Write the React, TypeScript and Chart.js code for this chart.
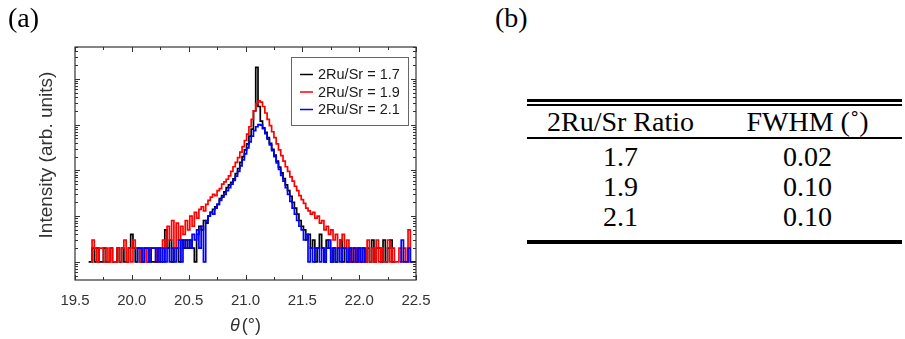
import React, { useEffect, useRef } from "react";
import { Chart, registerables } from "chart.js";

Chart.register(...registerables);

// ---- Data ----
const theta = [
  19.60, 19.62, 19.64, 19.66, 19.68, 19.70, 19.72, 19.74, 19.76, 19.78,
  19.80, 19.82, 19.84, 19.86, 19.88, 19.90, 19.92, 19.94, 19.96, 19.98,
  20.00, 20.02, 20.04, 20.06, 20.08, 20.10, 20.12, 20.14, 20.16, 20.18,
  20.20, 20.22, 20.24, 20.26, 20.28, 20.30, 20.32, 20.34, 20.36, 20.38,
  20.40, 20.42, 20.44, 20.46, 20.48, 20.50, 20.52, 20.54, 20.56, 20.58,
  20.60, 20.62, 20.64, 20.66, 20.68, 20.70, 20.72, 20.74, 20.76, 20.78,
  20.80, 20.82, 20.84, 20.86, 20.88, 20.90, 20.92, 20.94, 20.96, 20.98,
  21.00, 21.02, 21.04, 21.06, 21.08, 21.10, 21.12, 21.14, 21.16, 21.18,
  21.20, 21.22, 21.24, 21.26, 21.28, 21.30, 21.32, 21.34, 21.36, 21.38,
  21.40, 21.42, 21.44, 21.46, 21.48, 21.50, 21.52, 21.54, 21.56, 21.58,
  21.60, 21.62, 21.64, 21.66, 21.68, 21.70, 21.72, 21.74, 21.76, 21.78,
  21.80, 21.82, 21.84, 21.86, 21.88, 21.90, 21.92, 21.94, 21.96, 21.98,
  22.00, 22.02, 22.04, 22.06, 22.08, 22.10, 22.12, 22.14, 22.16, 22.18,
  22.20, 22.22, 22.24, 22.26, 22.28, 22.30, 22.32, 22.34, 22.36, 22.38,
  22.40, 22.42, 22.44, 22.46, 22.48, 22.50,
];

const ratio17 = [
  null, 1, 1, 2, 1, 2, 1, 1, 2, 1,
  1, 2, 1, 1, 2, 1, 2, 1, 1, 2,
  4, 2, 1, 2, 1, 1, 2, 1, 2, 1,
  1, 2, 1, 2, 1, 5, 2, 3, 1, 2,
  2, 1, 3, 2, 3, 2, 3, 2, 1, 4,
  6, 5, 8, 7, 10, 12, 14, 16, 18, 24,
  28, 34, 42, 48, 55, 65, 85, 110, 150, 200,
  280, 380, 560, 800, 2000, 18000, 2500, 1200, 850, 680,
  520, 390, 290, 215, 160, 118, 88, 66, 48, 36,
  27, 20, 15, 11, 8, 6, 5, 3, 4, 2,
  3, 1, 2, 4, 2, 1, 3, 2, 1, 2,
  1, 2, 3, 1, 2, 1, 2, 1, 2, 1,
  2, 1, 2, 1, 2, 1, 3, 1, 2, 2,
  1, 3, 1, 2, 3, 1, 1, null, null, null,
  null, null, null, null, null, null,
];

const ratio19 = [
  null, null, 1, 3, 2, 1, 2, 2, 1, 2,
  1, 2, 1, 1, 2, 1, 2, 3, 1, 2,
  1, 3, 2, 2, 1, 2, 2, 1, 2, 2,
  2, 1, 2, 2, 3, 2, 6, 3, 8, 2,
  7, 3, 6, 4, 8, 5, 10, 6, 12, 9,
  14, 16, 13, 18, 22, 26, 30, 28, 36, 40,
  50, 56, 64, 76, 95, 120, 150, 190, 250, 330,
  450, 620, 900, 1300, 2000, 2900, 3300, 3100, 2500, 1800,
  1300, 950, 700, 520, 380, 280, 210, 160, 120, 95,
  72, 58, 45, 36, 28, 23, 19, 15, 13, 11,
  12, 9, 10, 7, 8, 5, 6, 4, 5, 3,
  4, 2, 3, 4, 2, 3, 1, 2, 1, 2,
  1, 2, 1, 1, 3, 1, 2, 1, 3, 1,
  2, 1, 1, 3, 1, 2, 1, 1, 2, 1,
  2, 1, 5, 1, 1, null,
];

const ratio21 = [
  null, null, null, null, null, null, null, null, null, null,
  null, null, null, null, null, null, null, null, null, null,
  null, null, 1, 2, 2, 1, 2, 2, 1, 2,
  2, 1, 2, 1, 2, 1, 2, 1, 2, 1,
  2, 3, 1, 3, 2, 3, 2, 4, 3, 5,
  2, 6, 1, 8, 10, 12, 11, 15, 18, 22,
  26, 30, 36, 42, 50, 60, 75, 95, 125, 170,
  230, 310, 420, 560, 740, 900, 1000, 980, 820, 640,
  480, 360, 270, 200, 145, 105, 78, 58, 42, 30,
  21, 15, 11, 8, 6, 5, 3, 4, 1, 2,
  1, 2, 2, 1, 2, 1, 2, 3, 1, 2,
  1, 2, 1, 2, 2, 1, 2, 1, 2, 1,
  2, 1, 2, 1, null, null, null, null, null, null,
  null, null, null, null, null, null, null, null, 1, 3,
  1, 1, 2, 1, 1, 1,
];

const seriesLabels = ["2Ru/Sr = 1.7", "2Ru/Sr = 1.9", "2Ru/Sr = 2.1"];
const seriesColors = ["#000000", "#ff0000", "#0000ff"];

const xMajorTicks = [19.5, 20.0, 20.5, 21.0, 21.5, 22.0, 22.5];
const xMinorTicks = [19.75, 20.25, 20.75, 21.25, 21.75, 22.25];
const yDecades = [0.1, 1, 10, 100, 1000, 10000];
const yMinorMultipliers = [2, 3, 4, 5, 6, 7, 8, 9];

const tableHeader = ["2Ru/Sr Ratio", "FWHM (\u02DA)"];
const tableRatios = ["1.7", "1.9", "2.1"];
const tableFwhm = ["0.02", "0.10", "0.10"];

const SANS = "'Liberation Sans', Arial, sans-serif";
const SERIF = "'Liberation Serif', 'Times New Roman', serif";

const chromePlugin = {
  id: "chrome",
  afterDatasetsDraw(chart: any) {
    const { ctx, chartArea: a, scales } = chart;
    const xs = scales.x;
    const ys = scales.y;
    ctx.save();
    ctx.strokeStyle = "#333333";
    ctx.lineWidth = 1.2;
    ctx.strokeRect(a.left, a.top, a.right - a.left, a.bottom - a.top);
    ctx.lineWidth = 1;
    ctx.beginPath();
    const xt = (v: number, len: number) => {
      const px = Math.round(xs.getPixelForValue(v)) + 0.5;
      ctx.moveTo(px, a.bottom);
      ctx.lineTo(px, a.bottom - len);
      ctx.moveTo(px, a.top);
      ctx.lineTo(px, a.top + len);
    };
    const yt = (v: number, len: number) => {
      const py = Math.round(ys.getPixelForValue(v)) + 0.5;
      if (py < a.top || py > a.bottom) return;
      ctx.moveTo(a.left, py);
      ctx.lineTo(a.left + len, py);
      ctx.moveTo(a.right, py);
      ctx.lineTo(a.right - len, py);
    };
    xMajorTicks.forEach((v) => xt(v, 5));
    xMinorTicks.forEach((v) => xt(v, 3));
    yDecades.forEach((d) => {
      yt(d, 5);
      yMinorMultipliers.forEach((m) => yt(d * m, 3));
    });
    ctx.stroke();

    // y-axis title
    ctx.fillStyle = "#333333";
    ctx.font = `19px ${SANS}`;
    ctx.textAlign = "center";
    ctx.textBaseline = "middle";
    ctx.save();
    ctx.translate(47, 155);
    ctx.rotate(-Math.PI / 2);
    ctx.fillText("Intensity (arb. units)", 0, 0);
    ctx.restore();

    // x-axis title: italic theta + (°)
    const cx = (a.left + a.right) / 2;
    ctx.font = `italic 18px ${SANS}`;
    const w1 = ctx.measureText("\u03B8").width;
    ctx.font = `18px ${SANS}`;
    const w2 = ctx.measureText("(\u00B0)").width;
    const gap = 2;
    const start = cx - (w1 + gap + w2) / 2;
    ctx.textAlign = "left";
    ctx.font = `italic 18px ${SANS}`;
    ctx.fillText("\u03B8", start, 326);
    ctx.font = `18px ${SANS}`;
    ctx.fillText("(\u00B0)", start + w1 + gap, 326);

    // legend box
    const bx = 291.5, by = 57.5, bw = 117, bh = 68;
    ctx.fillStyle = "#ffffff";
    ctx.fillRect(bx, by, bw, bh);
    ctx.strokeStyle = "#666666";
    ctx.lineWidth = 1;
    ctx.strokeRect(bx, by, bw, bh);
    ctx.font = `14.5px ${SANS}`;
    ctx.textBaseline = "middle";
    chart.data.datasets.forEach((ds: any, i: number) => {
      const yy = 74.5 + i * 17.5;
      ctx.strokeStyle = ds.borderColor;
      ctx.lineWidth = 1.5;
      ctx.beginPath();
      ctx.moveTo(300, yy);
      ctx.lineTo(313, yy);
      ctx.stroke();
      ctx.fillStyle = "#1a1a1a";
      ctx.fillText(ds.label, 318, yy + 0.5);
    });
    ctx.restore();
  },
};

function XrdChart() {
  const ref = useRef<HTMLCanvasElement | null>(null);
  useEffect(() => {
    if (!ref.current) return;
    const series = [ratio17, ratio19, ratio21];
    const chart = new Chart(ref.current, {
      type: "line",
      data: {
        datasets: series.map((vals, i) => ({
          label: seriesLabels[i],
          data: theta.map((x, j) => ({ x, y: vals[j] })),
          borderColor: seriesColors[i],
          backgroundColor: seriesColors[i],
          borderWidth: 1.7,
          pointRadius: 0,
          stepped: "middle" as const,
          spanGaps: false,
          order: 2 - i,
        })),
      },
      options: {
        animation: false,
        responsive: false,
        maintainAspectRatio: false,
        layout: { padding: { left: 75, right: 34, top: 47, bottom: 0 } },
        plugins: { legend: { display: false }, tooltip: { enabled: false } },
        scales: {
          x: {
            type: "linear",
            min: 19.5,
            max: 22.5,
            grid: { display: false },
            border: { display: false },
            ticks: {
              stepSize: 0.5,
              padding: 4,
              autoSkip: false,
              maxRotation: 0,
              color: "#333333",
              font: { family: SANS, size: 15 },
              callback: (v: any) => Number(v).toFixed(1),
            },
            afterFit: (s: any) => {
              s.height = 59;
            },
          },
          y: {
            type: "logarithmic",
            display: false,
            min: 0.4,
            max: 50000,
          },
        },
      },
      plugins: [chromePlugin],
    } as any);
    return () => chart.destroy();
  }, []);
  return (
    <canvas
      ref={ref}
      width={450}
      height={339}
      style={{ position: "absolute", left: 0, top: 0, width: 450, height: 339 }}
    />
  );
}

const FS = 28;
const textStyle = (top: number, left: number, width?: number): React.CSSProperties => ({
  position: "absolute",
  top,
  left,
  width,
  textAlign: width ? "center" : "left",
  fontFamily: SERIF,
  fontSize: FS,
  lineHeight: `${FS}px`,
  color: "#000",
  whiteSpace: "nowrap",
});
const baseTop = (baseline: number) => baseline - 0.8375 * FS;

export default function App() {
  const rowBaselines = [166, 196, 226];
  const c1 = 527, cw = 187;
  return (
    <div style={{ position: "absolute", left: 0, top: 0, width: 905, height: 339, background: "#fff", overflow: "hidden" }}>
      <XrdChart />
      <div style={textStyle(baseTop(27), 8)}>(a)</div>
      <div style={textStyle(baseTop(27), 495)}>(b)</div>
      <div style={{ position: "absolute", left: c1, top: 99, width: 375, height: 2.5, background: "#000" }} />
      <div style={{ position: "absolute", left: c1, top: 104, width: 375, height: 1.5, background: "#000" }} />
      <div style={textStyle(baseTop(131), c1, cw)}>{tableHeader[0]}</div>
      <div style={textStyle(baseTop(131), c1 + cw, cw)}>{tableHeader[1]}</div>
      <div style={{ position: "absolute", left: c1, top: 137, width: 375, height: 1.5, background: "#000" }} />
      {tableRatios.map((r, i) => (
        <div key={"r" + i} style={textStyle(baseTop(rowBaselines[i]), c1, cw)}>{r}</div>
      ))}
      {tableFwhm.map((f, i) => (
        <div key={"f" + i} style={textStyle(baseTop(rowBaselines[i]), c1 + cw, cw)}>{f}</div>
      ))}
      <div style={{ position: "absolute", left: c1, top: 240, width: 375, height: 3.5, background: "#000" }} />
    </div>
  );
}
